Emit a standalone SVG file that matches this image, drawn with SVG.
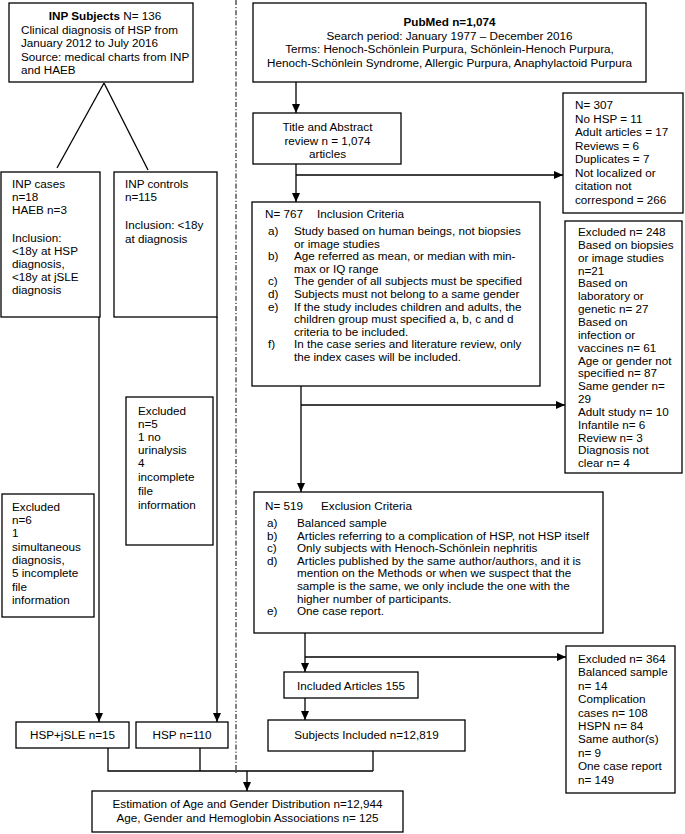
<svg xmlns="http://www.w3.org/2000/svg" width="685" height="834" viewBox="0 0 685 834">
<defs>
<style>
text{font-family:"Liberation Sans",Arial,Helvetica,sans-serif;font-size:11.7px;fill:#000}
.b{font-weight:bold}
.m{text-anchor:middle}
rect{fill:#fff;stroke:#000;stroke-width:1.3}
.c line,.c polyline{stroke:#000;stroke-width:1.3;fill:none}
.a{marker-end:url(#ah)}
</style>
<marker id="ah" markerUnits="userSpaceOnUse" markerWidth="10" markerHeight="10" refX="9" refY="4" orient="auto">
<path d="M0,0 L9,4 L0,8 z" fill="#000"/>
</marker>
</defs>
<rect x="0" y="0" width="685" height="834" style="stroke:none"/>
<g class="c" id="connectors">
<line x1="236" y1="0" x2="236" y2="773" style="stroke-dasharray:5,2,1.2,2;stroke-width:1"/>
<line x1="104" y1="83" x2="57" y2="168"/>
<line x1="104" y1="83" x2="148" y2="170"/>
<line class="a" x1="99" y1="317" x2="99" y2="722"/>
<line class="a" x1="217" y1="317" x2="217" y2="722"/>
<polyline points="108,748 108,771 373,771"/>
<line x1="200" y1="748" x2="200" y2="771"/>
<line x1="373" y1="751" x2="373" y2="771"/>
<line class="a" x1="247" y1="771" x2="247" y2="791"/>
<line class="a" x1="296" y1="82" x2="296" y2="113"/>
<line class="a" x1="296" y1="164" x2="296" y2="202"/>
<line class="a" x1="296" y1="175" x2="563" y2="175"/>
<line class="a" x1="301" y1="386" x2="301" y2="492"/>
<line class="a" x1="301" y1="405" x2="565" y2="405"/>
<line class="a" x1="305" y1="633" x2="305" y2="672"/>
<line class="a" x1="305" y1="657" x2="566" y2="657"/>
<line class="a" x1="305" y1="698" x2="305" y2="720"/>
</g>
<g id="inp-subjects">
<rect x="9" y="3" width="184" height="79"/>
<text x="105" y="20" class="m"><tspan class="b">INP Subjects</tspan> N= 136</text>
<text x="21" y="33.5">Clinical diagnosis of HSP from</text>
<text x="21" y="47">January 2012 to July 2016</text>
<text x="21" y="60.5">Source: medical charts from INP</text>
<text x="21" y="74">and HAEB</text>
</g>
<g id="inp-cases">
<rect x="1" y="172" width="99" height="145"/>
<text x="12" y="188">INP cases</text>
<text x="12" y="201">n=18</text>
<text x="12" y="214">HAEB n=3</text>
<text x="12" y="242">Inclusion:</text>
<text x="12" y="255">&lt;18y at HSP</text>
<text x="12" y="268">diagnosis,</text>
<text x="12" y="281">&lt;18y at jSLE</text>
<text x="12" y="294">diagnosis</text>
</g>
<g id="inp-controls">
<rect x="114" y="172" width="103" height="145"/>
<text x="125" y="188">INP controls</text>
<text x="125" y="201">n=115</text>
<text x="125" y="229">Inclusion: &lt;18y</text>
<text x="125" y="243">at diagnosis</text>
</g>
<g id="excluded-controls">
<rect x="126" y="397" width="87" height="148"/>
<text x="138" y="415">Excluded</text>
<text x="138" y="428">n=5</text>
<text x="138" y="441">1 no</text>
<text x="138" y="454">urinalysis</text>
<text x="138" y="467">4</text>
<text x="138" y="481">incomplete</text>
<text x="138" y="495">file</text>
<text x="138" y="509">information</text>
</g>
<g id="excluded-cases">
<rect x="2" y="494" width="92" height="123"/>
<text x="12" y="511">Excluded</text>
<text x="12" y="524">n=6</text>
<text x="12" y="537">1</text>
<text x="12" y="551">simultaneous</text>
<text x="12" y="564">diagnosis,</text>
<text x="12" y="577">5 incomplete</text>
<text x="12" y="591">file</text>
<text x="12" y="604">information</text>
</g>
<g id="hsp-jsle">
<rect x="16" y="722" width="113" height="26"/>
<text x="72.5" y="739" class="m">HSP+jSLE n=15</text>
</g>
<g id="hsp">
<rect x="136" y="722" width="92" height="26"/>
<text x="182" y="739" class="m">HSP n=110</text>
</g>
<g id="pubmed">
<rect x="253" y="3" width="393" height="79"/>
<text x="449.5" y="26" class="m b">PubMed n=1,074</text>
<text x="449.5" y="39.5" class="m">Search period: January 1977 – December 2016</text>
<text x="449.5" y="53" class="m">Terms: Henoch-Schönlein Purpura, Schönlein-Henoch Purpura,</text>
<text x="449.5" y="66.5" class="m">Henoch-Schönlein Syndrome, Allergic Purpura, Anaphylactoid Purpura</text>
</g>
<g id="title-review">
<rect x="253" y="113" width="148" height="51"/>
<text x="327.5" y="131" class="m">Title and Abstract</text>
<text x="327.5" y="144.5" class="m">review n = 1,074</text>
<text x="327.5" y="158" class="m">articles</text>
</g>
<g id="excluded-307">
<rect x="563" y="93" width="120" height="120"/>
<text x="575" y="109">N= 307</text>
<text x="575" y="122.5">No HSP = 11</text>
<text x="575" y="136">Adult articles = 17</text>
<text x="575" y="149.5">Reviews = 6</text>
<text x="575" y="163">Duplicates = 7</text>
<text x="575" y="176.5">Not localized or</text>
<text x="575" y="190">citation not</text>
<text x="575" y="203.5">correspond = 266</text>
</g>
<g id="inclusion">
<rect x="252" y="202" width="288" height="184"/>
<text x="265" y="218">N= 767</text>
<text x="317" y="218">Inclusion Criteria</text>
<text x="268" y="235">a)</text><text x="294" y="235">Study based on human beings, not biopsies</text>
<text x="294" y="247.6">or image studies</text>
<text x="268" y="260.2">b)</text><text x="294" y="260.2">Age referred as mean, or median with min-</text>
<text x="294" y="272.8">max or IQ range</text>
<text x="268" y="285.4">c)</text><text x="294" y="285.4">The gender of all subjects must be specified</text>
<text x="268" y="298">d)</text><text x="294" y="298">Subjects must not belong to a same gender</text>
<text x="268" y="310.6">e)</text><text x="294" y="310.6">If the study includes children and adults, the</text>
<text x="294" y="323.2">children group must specified a, b, c and d</text>
<text x="294" y="335.8">criteria to be included.</text>
<text x="268" y="348.4">f)</text><text x="294" y="348.4">In the case series and literature review, only</text>
<text x="294" y="361">the index cases will be included.</text>
</g>
<g id="excluded-248">
<rect x="565" y="221" width="117" height="252"/>
<text x="578" y="236">Excluded n= 248</text>
<text x="578" y="248.85">Based on biopsies</text>
<text x="578" y="261.7">or image studies</text>
<text x="578" y="274.55">n=21</text>
<text x="578" y="287.4">Based on</text>
<text x="578" y="300.25">laboratory or</text>
<text x="578" y="313.1">genetic n= 27</text>
<text x="578" y="325.95">Based on</text>
<text x="578" y="338.8">infection or</text>
<text x="578" y="351.65">vaccines n= 61</text>
<text x="578" y="364.5">Age or gender not</text>
<text x="578" y="377.35">specified n= 87</text>
<text x="578" y="390.2">Same gender n=</text>
<text x="578" y="403.05">29</text>
<text x="578" y="415.9">Adult study n= 10</text>
<text x="578" y="428.75">Infantile n= 6</text>
<text x="578" y="441.6">Review n= 3</text>
<text x="578" y="454.45">Diagnosis not</text>
<text x="578" y="467.3">clear n= 4</text>
</g>
<g id="exclusion">
<rect x="254" y="492" width="349" height="141"/>
<text x="265" y="510">N= 519</text>
<text x="321" y="510">Exclusion Criteria</text>
<text x="267" y="527">a)</text><text x="297" y="527">Balanced sample</text>
<text x="267" y="539.6">b)</text><text x="297" y="539.6">Articles referring to a complication of HSP, not HSP itself</text>
<text x="267" y="552.2">c)</text><text x="297" y="552.2">Only subjects with Henoch-Schönlein nephritis</text>
<text x="267" y="564.8">d)</text><text x="297" y="564.8">Articles published by the same author/authors, and it is</text>
<text x="297" y="577.4">mention on the Methods or when we suspect that the</text>
<text x="297" y="590">sample is the same, we only include the one with the</text>
<text x="297" y="602.6">higher number of participants.</text>
<text x="267" y="615.2">e)</text><text x="297" y="615.2">One case report.</text>
</g>
<g id="excluded-364">
<rect x="566" y="646" width="109" height="147"/>
<text x="578" y="663">Excluded n= 364</text>
<text x="578" y="676.4">Balanced sample</text>
<text x="578" y="689.8">n= 14</text>
<text x="578" y="703.2">Complication</text>
<text x="578" y="716.6">cases n= 108</text>
<text x="578" y="730">HSPN n= 84</text>
<text x="578" y="743.4">Same author(s)</text>
<text x="578" y="756.8">n= 9</text>
<text x="578" y="770.2">One case report</text>
<text x="578" y="783.6">n= 149</text>
</g>
<g id="included-articles">
<rect x="284" y="672" width="134" height="26"/>
<text x="351" y="690" class="m">Included Articles 155</text>
</g>
<g id="subjects-included">
<rect x="268" y="720" width="197" height="31"/>
<text x="366.5" y="739" class="m">Subjects Included n=12,819</text>
</g>
<g id="estimation">
<rect x="92" y="791" width="311" height="41"/>
<text x="247.5" y="808" class="m">Estimation of Age and Gender Distribution n=12,944</text>
<text x="247.5" y="822" class="m">Age, Gender and Hemoglobin Associations n= 125</text>
</g>
</svg>
